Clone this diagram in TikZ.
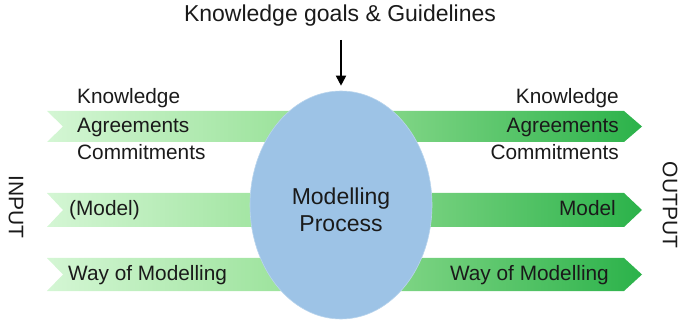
\documentclass[tikz,border=0pt]{standalone}
\usepackage{fontspec}
\setmainfont{Liberation Sans}
\usetikzlibrary{shapes.geometric,arrows.meta}
\definecolor{inL}{HTML}{D4F6D4}
\definecolor{inR}{HTML}{8EDE8E}
\definecolor{outL}{HTML}{92DD92}
\definecolor{outR}{HTML}{2BB24A}
\definecolor{ellcol}{HTML}{9DC3E6}
\definecolor{txt}{HTML}{1A1A1A}
\begin{document}
\begin{tikzpicture}[x=1pt,y=1pt,
  lbl/.style={inner sep=0pt,text=txt,font=\fontsize{20.8}{24}\selectfont,text height=15pt,text depth=4pt},
  bigtxt/.style={inner sep=0pt,text=txt,font=\fontsize{23}{27}\selectfont,align=center},
  sidetxt/.style={inner sep=0pt,text=txt,font=\fontsize{21}{24}\selectfont,rotate=-90},
  inshade/.style={left color=inL,right color=inR},
  outshade/.style={left color=outL,right color=outR}]
\useasboundingbox (0,0) rectangle (679,321);
% input arrows
\foreach \t/\b in {210/179,128/94,63/30}{
  \shade[inshade] (47,\t) -- (345,\t) -- (345,\b) -- (47,\b) -- (63,{(\t+\b)/2}) -- cycle;
}
% output arrows
\foreach \t/\b in {210/179,128/94,63/30}{
  \shade[outshade] (340,\t) -- (624,\t) -- (642,{(\t+\b)/2}) -- (624,\b) -- (340,\b) -- cycle;
}
% ellipse
\node[ellipse,fill=ellcol,draw=ellcol!70!white,line width=0.6pt,minimum width=182pt,minimum height=228pt,inner sep=0pt] (ell) at (341,116) {};
\node[bigtxt] (proc) at (341,111) {Modelling\\Process};
% title and arrow
\node[bigtxt] (title) at (340,305) {Knowledge goals \& Guidelines};
\coordinate (arrstart) at (341,281);
\draw[line width=1.8pt,-{Triangle[length=10pt,width=10pt]},shorten >=5pt] (arrstart) -- (ell.north);
% input labels
\node[lbl,anchor=west] (ik) at (77,223) {Knowledge};
\node[lbl,anchor=west] (ia) at (77,194) {Agreements};
\node[lbl,anchor=west] (ic) at (77,167) {Commitments};
\node[lbl,anchor=west] (im) at (69,111) {(Model)};
\node[lbl,anchor=west] (iw) at (68,46) {Way of Modelling};
% output labels
\node[lbl,anchor=east] (ok) at (619,223) {Knowledge};
\node[lbl,anchor=east] (oa) at (619,194) {Agreements};
\node[lbl,anchor=east] (oc) at (619,167) {Commitments};
\node[lbl,anchor=east] (om) at (616,111) {Model};
\node[lbl,anchor=east] (ow) at (609,46) {Way of Modelling};
% side labels
\node[sidetxt] (input) at (16,114) {INPUT};
\node[sidetxt] (output) at (670,116) {OUTPUT};
\end{tikzpicture}
\end{document}
